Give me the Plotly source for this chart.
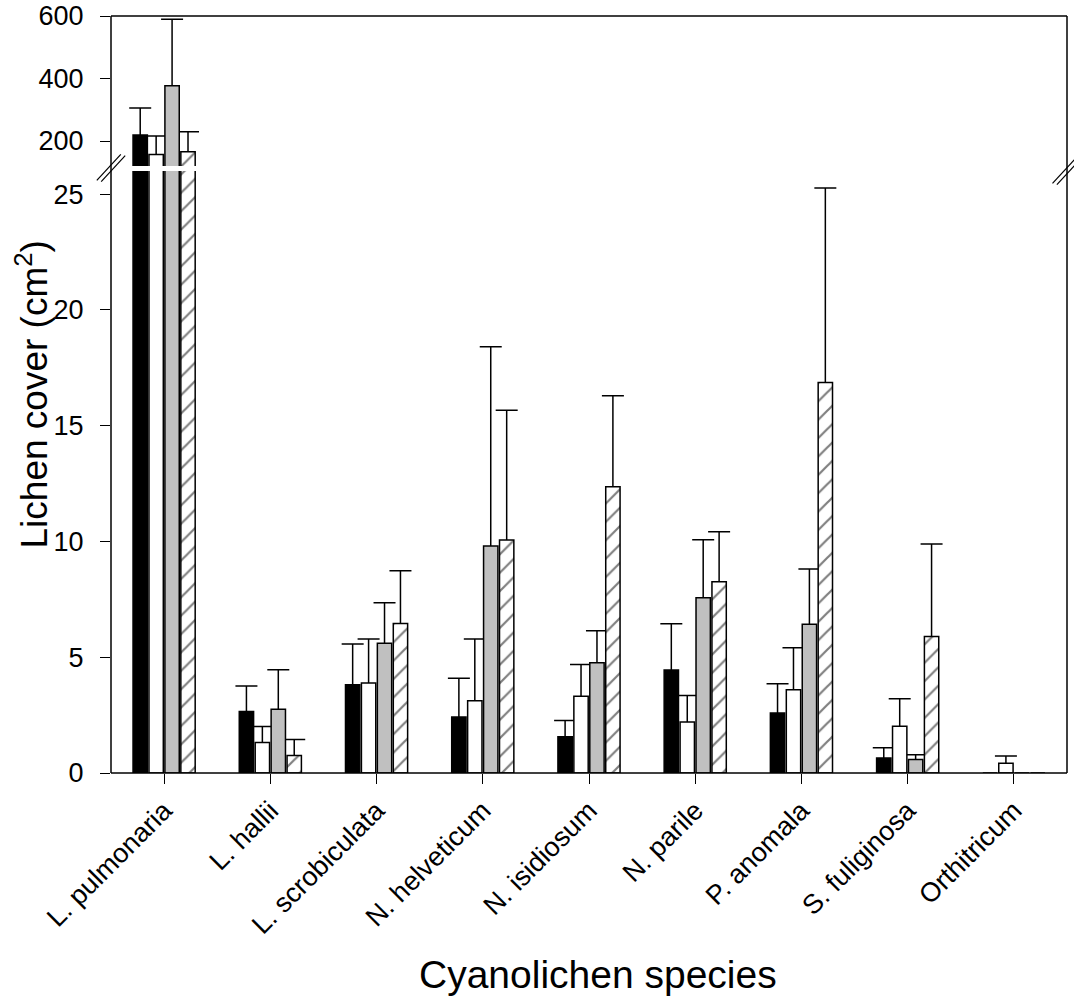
import plotly.graph_objects as go

species = ["L. pulmonaria", "L. hallii", "L. scrobiculata", "N. helveticum",
           "N. isidiosum", "N. parile", "P. anomala", "S. fuliginosa", "Orthitricum"]

# means (cm^2) for the four treatments
mean_black = [219, 2.66, 3.81, 2.42, 1.57, 4.45, 2.59, 0.65, 0]
mean_white = [157, 1.32, 3.89, 3.12, 3.31, 2.20, 3.60, 2.02, 0.42]
mean_gray = [377, 2.75, 5.60, 9.80, 4.76, 7.57, 6.42, 0.58, 0]
mean_hatch = [165.5, 0.76, 6.46, 10.06, 12.36, 8.26, 16.87, 5.89, 0]

# upper error (SE)
err_black = [86.5, 1.10, 1.76, 1.67, 0.70, 2.00, 1.27, 0.44, None]
err_white = [59, 0.69, 1.90, 2.67, 1.38, 1.15, 1.81, 1.19, 0.31]
err_gray = [213, 1.71, 1.75, 8.61, 1.38, 2.50, 2.39, 0.21, None]
err_hatch = [64.5, 0.69, 2.28, 5.61, 3.93, 2.16, 8.40, 4.00, None]

W, H = 1074, 1008
L, R, T, B = 111, 7, 16, 235
pw, ph = W - L - R, H - T - B
top_px = 150
gap_px = 5
bot_dom = [0, (ph - top_px - gap_px) / ph]
top_dom = [(ph - top_px) / ph, 1]

def px(x):
    return (x - L) / pw

def py(y):
    return (H - B - y) / ph

series = [
    (mean_black, err_black, dict(color="black", line=dict(color="black", width=1.5))),
    (mean_white, err_white, dict(color="white", line=dict(color="black", width=1.5))),
    (mean_gray, err_gray, dict(color="#c0c0c0", line=dict(color="black", width=1.5))),
    (mean_hatch, err_hatch, dict(color="white", line=dict(color="black", width=1.5),
                                 pattern=dict(shape="/", fgcolor="black", bgcolor="white",
                                              size=13, solidity=0.17))),
]

fig = go.Figure()

for xa, ya in [("x", "y"), ("x2", "y2")]:
    # error bars first (drawn beneath the bars, like the original)
    for i, (m, e, mk) in enumerate(series):
        yv = [v if ev is not None else None for v, ev in zip(m, e)]
        ev = [x if x is not None else 0 for x in e]
        fig.add_trace(go.Bar(
            x=species, y=yv, xaxis=xa, yaxis=ya, offsetgroup=str(i),
            marker=dict(color="rgba(0,0,0,0)", line=dict(width=0)),
            error_y=dict(type="data", symmetric=False, array=ev,
                         arrayminus=[1e5] * len(ev), color="black",
                         thickness=1.5, width=11),
            showlegend=False, hoverinfo="skip"))
    for i, (m, e, mk) in enumerate(series):
        fig.add_trace(go.Bar(
            x=species, y=m, xaxis=xa, yaxis=ya, offsetgroup=str(i),
            marker=mk, showlegend=False))

font = "Liberation Sans, Arial, sans-serif"
tickfont = dict(family=font, size=27, color="black")

shapes = []
lw = 1.5
# frame
shapes.append(dict(type="line", xref="paper", yref="paper", x0=0, x1=0, y0=0, y1=1,
                   line=dict(color="black", width=lw)))
shapes.append(dict(type="line", xref="paper", yref="paper", x0=1, x1=1, y0=0, y1=1,
                   line=dict(color="black", width=lw)))
shapes.append(dict(type="line", xref="paper", yref="paper", x0=0, x1=1, y0=1, y1=1,
                   line=dict(color="black", width=lw)))
shapes.append(dict(type="line", xref="paper", yref="paper", x0=0, x1=1, y0=0, y1=0,
                   line=dict(color="black", width=lw)))
# white gap across the bars at the break
shapes.append(dict(type="rect", xref="paper", yref="paper", x0=0.002, x1=0.998,
                   y0=bot_dom[1], y1=top_dom[0], fillcolor="white",
                   line=dict(width=0), layer="above"))
# break marks
for cx, cy in [(111, 168), (1066.7, 171)]:
    for d in (-2.2, 2.2):
        shapes.append(dict(type="line", xref="paper", yref="paper",
                           x0=px(cx - 12 + d), y0=py(cy + 13 + d * 0.3),
                           x1=px(cx + 12 + d), y1=py(cy - 13 + d * 0.3),
                           line=dict(color="black", width=1.2)))

fig.update_layout(
    width=W, height=H,
    margin=dict(l=L, r=R, t=T, b=B, pad=0, autoexpand=False),
    paper_bgcolor="white", plot_bgcolor="white",
    barmode="group", bargap=0.4, bargroupgap=0.1,
    showlegend=False,
    shapes=shapes,
    xaxis=dict(domain=[0, 1], anchor="y", type="category", range=[-0.5, 8.5],
               showline=False, showgrid=False, zeroline=False, automargin=False,
               ticks="outside", ticklen=10, tickwidth=1.2, tickcolor="black",
               tickangle=-45, tickfont=tickfont),
    xaxis2=dict(domain=[0, 1], anchor="y2", matches="x", type="category",
                showline=False, showgrid=False, zeroline=False, automargin=False,
                showticklabels=False, ticks=""),
    yaxis=dict(domain=bot_dom, anchor="x", range=[0, 26],
               tickvals=[0, 5, 10, 15, 20, 25], automargin=False,
               showline=False, showgrid=False, zeroline=False,
               ticks="outside", ticklen=10, tickwidth=1.2, tickcolor="black",
               ticklabelstandoff=11, tickfont=tickfont),
    yaxis2=dict(domain=top_dom, anchor="x2", range=[120, 600],
                tickvals=[200, 400, 600], automargin=False,
                showline=False, showgrid=False, zeroline=False,
                ticks="outside", ticklen=10, tickwidth=1.2, tickcolor="black",
                ticklabelstandoff=11, tickfont=tickfont),
    annotations=[
        dict(text="Lichen cover (cm<sup>2</sup>)", xref="paper", yref="paper",
             x=px(32), y=0.5, textangle=-90, showarrow=False,
             xanchor="center", yanchor="middle",
             font=dict(family=font, size=37, color="black")),
        dict(text="Cyanolichen species", xref="paper", yref="paper",
             x=px(598), y=py(974), showarrow=False,
             xanchor="center", yanchor="middle",
             font=dict(family=font, size=39, color="black")),
    ],
)

fig.write_html("out.html")
